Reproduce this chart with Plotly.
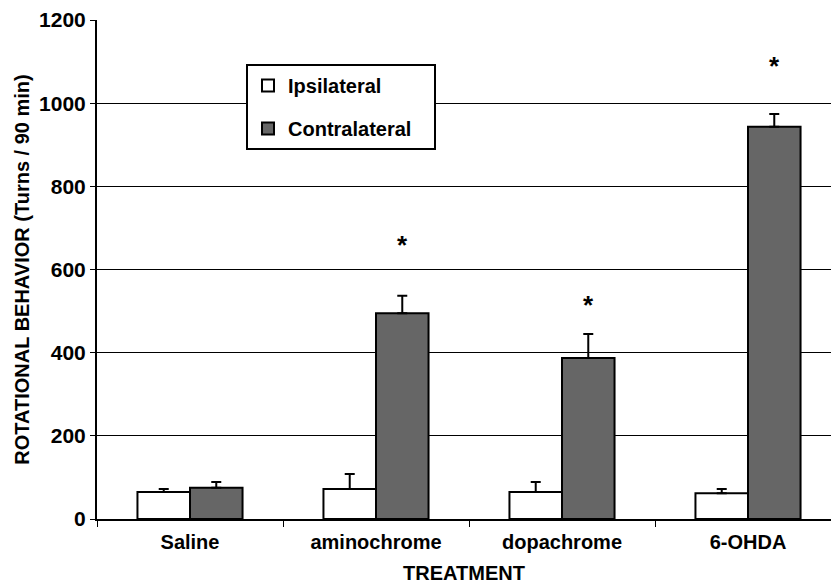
import plotly.graph_objects as go

categories = ["Saline", "aminochrome", "dopachrome", "6-OHDA"]
ipsi = [65, 72, 65, 62]
ipsi_err = [7, 36, 24, 10]
contra = [75, 495, 387, 943]
contra_err = [14, 42, 58, 31]
sig_y = [None, 660, 515, 1090]
y_ticks = [0, 200, 400, 600, 800, 1000, 1200]

FONT = "Liberation Sans, Arial, sans-serif"
NB = "\u00a0"

fig = go.Figure()
fig.add_trace(go.Bar(
    name="<b>Ipsilateral</b>", x=categories, y=ipsi,
    marker=dict(color="white", line=dict(color="black", width=2)),
    error_y=dict(type="data", array=ipsi_err, arrayminus=[0] * 4, symmetric=False,
                 color="black", thickness=2, width=5),
    legendgroup="a",
))
fig.add_trace(go.Bar(
    name="<b>Contralateral</b>" + NB * 3, x=categories, y=contra,
    marker=dict(color="#666666", line=dict(color="black", width=2)),
    error_y=dict(type="data", array=contra_err, arrayminus=[0] * 4, symmetric=False,
                 color="black", thickness=2, width=5),
    legendgroup="b",
))

for c, s in zip(categories, sig_y):
    if s is None:
        continue
    fig.add_annotation(x=c, y=s, text="<b>*</b>", showarrow=False, xshift=26,
                       font=dict(family=FONT, size=26, color="black"))

fig.update_layout(
    width=831, height=584,
    margin=dict(l=97, r=0, t=20, b=65),
    paper_bgcolor="white", plot_bgcolor="white",
    barmode="group", bargap=0.435, bargroupgap=0,
    font=dict(family=FONT, color="black"),
    showlegend=True,
    legend=dict(x=0.203, y=0.912, xanchor="left", yanchor="top",
                bgcolor="white", bordercolor="black", borderwidth=2,
                font=dict(family=FONT, size=20, color="black"),
                traceorder="grouped", tracegroupgap=14,
                itemwidth=30),
    xaxis=dict(
        type="category", range=[-0.5, 3.5 - 10 / 186],
        showline=True, linecolor="black", linewidth=2,
        ticks="outside", tickson="boundaries", ticklen=6, tickcolor="black", tickwidth=1,
        tickfont=dict(family=FONT, size=20, color="black"),
        ticklabelstandoff=4,
        title=dict(text="<b>TREATMENT</b>", font=dict(family=FONT, size=20, color="black"), standoff=17),
        showgrid=False,
    ),
    yaxis=dict(
        range=[0, 1200], tickvals=y_ticks, ticktext=[f"<b>{v}</b>" for v in y_ticks],
        showline=True, linecolor="black", linewidth=2,
        ticks="outside", ticklen=5, tickcolor="black", tickwidth=1,
        showgrid=True, gridcolor="black", gridwidth=1,
        zeroline=False,
        tickfont=dict(family=FONT, size=21, color="black"),
        title=dict(text="<b>ROTATIONAL BEHAVIOR (Turns / 90 min)</b>",
                   font=dict(family=FONT, size=20, color="black"), standoff=4),
    ),
)
fig.update_xaxes(ticktext=[f"<b>{c}</b>" for c in categories], tickvals=categories)

fig.write_html("out.html")
